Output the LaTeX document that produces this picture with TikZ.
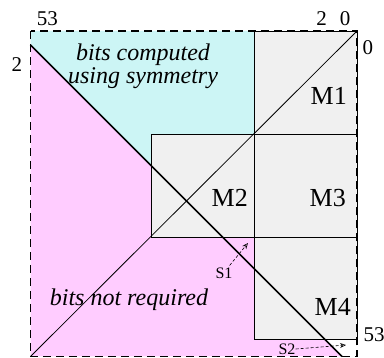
\documentclass[tikz,border=0pt]{standalone}
\usepackage{fontspec}
\setmainfont{Liberation Serif}
\usetikzlibrary{arrows.meta}
\definecolor{cyanfill}{RGB}{204,245,245}
\definecolor{pinkfill}{RGB}{255,204,255}
\definecolor{grayfill}{RGB}{240,240,240}
\begin{document}
\begin{tikzpicture}[x=1pt,y=-1pt,
  block/.style={draw=black,line width=0.8pt,fill=grayfill},
  blocklabel/.style={font=\fontsize{26}{28}\selectfont,anchor=base east,inner sep=0pt},
  idx/.style={font=\fontsize{21}{23}\selectfont,inner sep=0pt},
  note/.style={font=\fontsize{24}{27}\selectfont\itshape,align=center,inner sep=0pt},
  slabel/.style={font=\fontsize{16}{18}\selectfont,inner sep=0pt},
  sarrow/.style={dash pattern=on 3pt off 2pt,line width=0.6pt,-{Stealth[open,length=6pt,width=5pt]}}]
\useasboundingbox (0,0) rectangle (384,358);
% corners and key points
\coordinate (TL) at (30.5,31);
\coordinate (TR) at (357,31);
\coordinate (BR) at (357,356.5);
\coordinate (BL) at (30.5,356.5);
\coordinate (dstart) at (30.5,45);
\coordinate (dend) at (342,356.5);
% cyan region
\fill[cyanfill] (30.5,31) -- (254,31) -- (254,134) -- (151.7,134) -- (151.7,166.2) -- (30.5,45) -- cycle;
% pink region
\fill[pinkfill] (30.5,45) -- (151.7,166.2) -- (151.7,237) -- (254,237) -- (254,339) -- (324.5,339) -- (342,356.5) -- (30.5,356.5) -- cycle;
% gray blocks
\draw[block] (254,31) rectangle (357,134);
\draw[block] (151.7,134) rectangle (254,237);
\draw[block] (254,134) rectangle (357,237);
\draw[block] (254,237) rectangle (357,339);
% diagonals
\draw[line width=0.8pt] (BL) -- (TR);
\draw[line width=1.6pt] (dstart) -- (dend);
% dashed border
\draw[line width=1.5pt,dash pattern=on 8pt off 5pt] (TL) rectangle (BR);
% block labels
\node[blocklabel] (m1) at (347,105) {M1};
\node[blocklabel] (m2) at (248,207) {M2};
\node[blocklabel] (m3) at (346,207) {M3};
\node[blocklabel] (m4) at (351,316) {M4};
% notes
\node[note] (sym) at (143,66) {bits computed\\[-4pt]using symmetry};
\node[note] (notreq) at (129,300) {bits not required};
% indices
\node[idx] (i53t) at (47.5,19) {53};
\node[idx] (i2t) at (321.5,19) {2};
\node[idx] (i0t) at (345,19) {0};
\node[idx] (i0r) at (368,48) {0};
\node[idx] (i2l) at (17,64.5) {2};
\node[idx] (i53r) at (374,335) {53};
% S labels and arrows
\node[slabel] (s1) at (224,273) {S1};
\node[slabel] (s2) at (287,349) {S2};
\coordinate (s1tip) at (248,243);
\coordinate (s2tip) at (346,345);
\draw[sarrow] ([xshift=-3pt,yshift=2pt]s1.north east) -- (s1tip);
\draw[sarrow] (s2.east) -- (s2tip);
\end{tikzpicture}
\end{document}
